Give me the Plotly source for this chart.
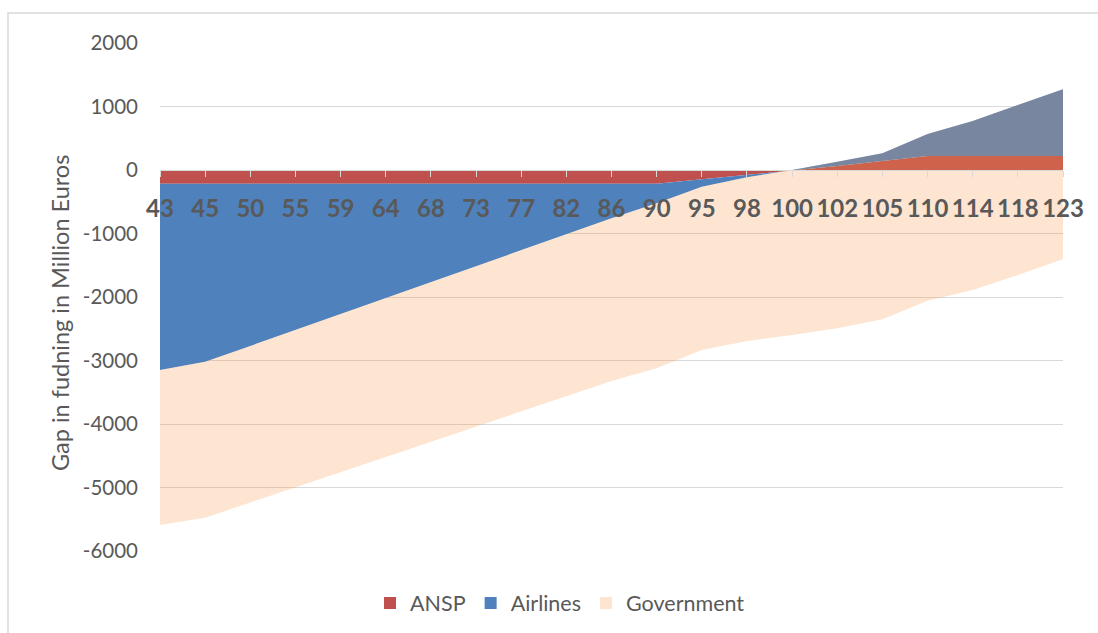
import plotly.graph_objects as go

# Load factor scenarios (categories on the x axis)
categories = ["43", "45", "50", "55", "59", "64", "68", "73", "77", "82", "86",
              "90", "95", "98", "100", "102", "105", "110", "114", "118", "123"]

# Funding gap contributions per stakeholder, million euros (stacked)
ansp = [-215, -215, -215, -215, -215, -215, -215, -215, -215, -215, -215,
        -215, -147, -79, 0, 63, 140, 220, 220, 220, 220]
airlines = [-2935, -2805, -2555, -2305, -2055, -1805, -1555, -1305, -1055, -805, -545,
            -310, -115, -36, 0, 67, 122, 347, 552, 804, 1050]
government = [-2440, -2455, -2466, -2477, -2488, -2499, -2510, -2521, -2532, -2543, -2564,
              -2596, -2573, -2578, -2600, -2623, -2613, -2625, -2662, -2678, -2676]

y_ticks = [2000, 1000, 0, -1000, -2000, -3000, -4000, -5000, -6000]
y_range = [-6000, 2000]

series = [
    ("ANSP", ansp, "#C0504D"),
    ("Airlines", airlines, "#4F81BD"),
    ("Government", government, "rgba(247,150,70,0.25)"),
]

FONT = "Lato, 'Open Sans', sans-serif"
TEXT = "#595959"
GRID = "#D9D9D9"

W, H = 1098, 633
ML, MR, MT, MB = 160, 35, 43, 82
PW, PH = W - ML - MR, H - MT - MB

fig = go.Figure()

for name, vals, fill in series:
    fig.add_trace(go.Scatter(
        x=categories, y=vals, name=name, stackgroup="gap", mode="lines",
        line=dict(width=0), fillcolor=fill, showlegend=False, hoverinfo="x+y+name",
    ))

# Square legend swatches
for name, _, fill in series:
    fig.add_trace(go.Scatter(
        x=[None], y=[None], name=name, mode="markers",
        marker=dict(symbol="square", size=14, color=fill, line=dict(width=0)),
    ))

# y = 0 position as a fraction of the plot height
zero_frac = (0 - y_range[0]) / (y_range[1] - y_range[0])

fig.update_layout(
    width=W, height=H,
    margin=dict(l=ML, r=MR, t=MT, b=MB, autoexpand=False),
    paper_bgcolor="white", plot_bgcolor="white",
    font=dict(family=FONT, color=TEXT, size=20),
    xaxis=dict(
        type="category", range=[0, len(categories) - 1],
        anchor="free", position=zero_frac, automargin=False,
        showgrid=False, showline=True, linecolor=GRID, linewidth=1,
        ticks="outside", ticklen=6, tickcolor=GRID, tickwidth=1,
        tickfont=dict(family=FONT, size=24, color=TEXT, weight="bold"),
        ticklabelstandoff=11, layer="above traces",
    ),
    yaxis=dict(
        range=y_range, tickvals=y_ticks, ticktext=[str(v) for v in y_ticks],
        showgrid=True, gridcolor=GRID, gridwidth=1.3, zeroline=False,
        showline=False, ticks="", ticklabelstandoff=21, automargin=False,
        tickfont=dict(family=FONT, size=20.5, color=TEXT),
    ),
    legend=dict(
        orientation="h", traceorder="normal",
        x=(370 - ML) / PW, xanchor="left",
        y=(PH + MT - 603) / PH, yanchor="middle",
        font=dict(family=FONT, size=21.5, color=TEXT),
        bgcolor="rgba(0,0,0,0)", itemsizing="constant",
    ),
    annotations=[dict(
        text="Gap in fudning in Million Euros", textangle=-90,
        xref="paper", yref="paper",
        x=(60 - ML) / PW, y=(MT + PH - 313) / PH,
        xanchor="center", yanchor="middle", showarrow=False,
        font=dict(family=FONT, size=23.5, color=TEXT),
    )],
    shapes=[dict(
        type="rect", xref="paper", yref="paper",
        x0=(8 - ML) / PW, x1=1.2, y0=-0.3, y1=(MT + PH - 13) / PH,
        line=dict(color=GRID, width=1.5), fillcolor="rgba(0,0,0,0)", layer="below",
    )],
)

fig.write_html("out.html")
